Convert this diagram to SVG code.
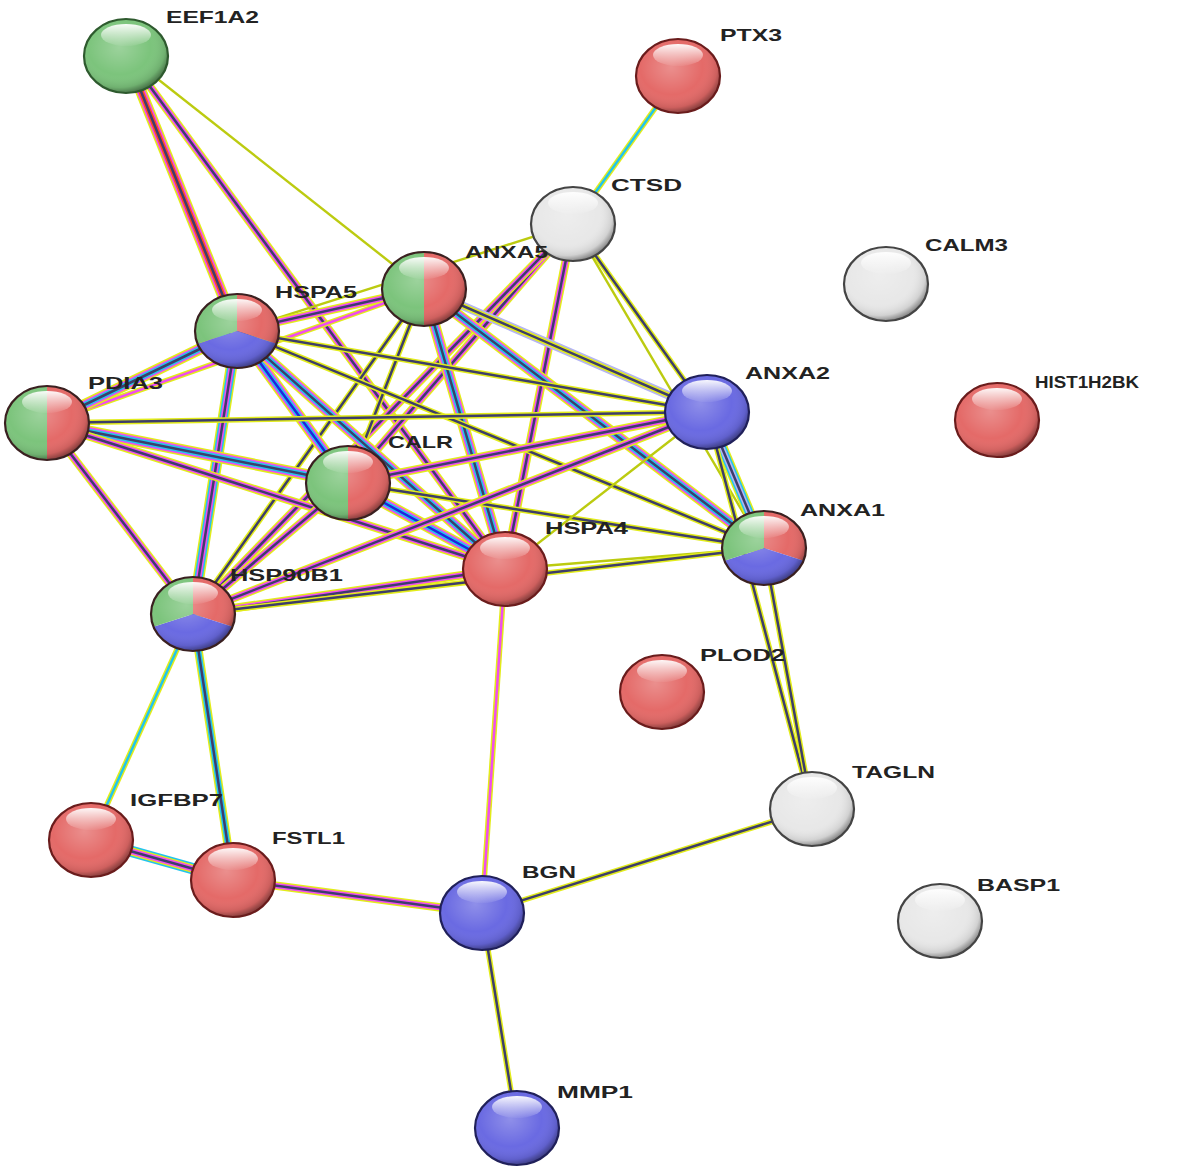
<svg xmlns="http://www.w3.org/2000/svg" xmlns:xlink="http://www.w3.org/1999/xlink" width="1181" height="1175" viewBox="0 0 1181 1175">
<style>
.e use{fill:none;stroke-linecap:butt}
.Y{stroke:#e2ec1a}.G{stroke:#bccb10}.C{stroke:#22c4ee}.M{stroke:#f04cf0}.D{stroke:#3d3d6b}.R{stroke:#ff4a22}.B{stroke:#2222dd}.P{stroke:#b4b4f4}
.w1{stroke-width:2.5}.w2{stroke-width:5.5}.w3{stroke-width:8.5}.w4{stroke-width:11.5}.w0{stroke-width:2.4}
.red{fill:#e46a68}.grn{fill:#7cc47c}.blu{fill:#6a6ae2}.wht{fill:#e8e8e8}
.lbl{font-family:"Liberation Sans",Arial,sans-serif;font-size:17px;font-weight:bold;fill:#222}
</style>
<defs>
<radialGradient id="sh" cx="0.42" cy="0.38" r="0.62">
<stop offset="0" stop-color="#fff" stop-opacity="0.25"/>
<stop offset="0.6" stop-color="#fff" stop-opacity="0"/>
<stop offset="0.88" stop-color="#000" stop-opacity="0.1"/>
<stop offset="1" stop-color="#000" stop-opacity="0.38"/>
</radialGradient>
<linearGradient id="gl" x1="0" y1="0" x2="0" y2="1">
<stop offset="0" stop-color="#fff" stop-opacity="0.95"/>
<stop offset="1" stop-color="#fff" stop-opacity="0.05"/>
</linearGradient>
<g id="ov">
<ellipse rx="42" ry="37" fill="url(#sh)"/>
<ellipse cy="-21" rx="25" ry="11" fill="url(#gl)"/>
<ellipse rx="42" ry="37" fill="none" stroke="currentColor" stroke-width="2.2"/>
</g>
<path id="hl" d="M0,-37 A42,37 0 0 0 0,37 Z"/>
<path id="hr" d="M0,-37 A42,37 0 0 1 0,37 Z"/>
<path id="s1" d="M0,0 L0,-37 A42,37 0 0 1 39.5,12.7 Z"/>
<path id="s2" d="M0,0 L39.5,12.7 A42,37 0 0 1 -39.5,12.7 Z"/>
<path id="s3" d="M0,0 L-39.5,12.7 A42,37 0 0 1 0,-37 Z"/>
<ellipse id="full" rx="42" ry="37"/>
<path id="l1" d="M126,54 L237,331"/>
<path id="l2" d="M126,54 L505,569"/>
<path id="l3" d="M126,54 L424,289"/>
<path id="l4" d="M678,76 L573,224"/>
<path id="l5" d="M573,224 L237,331"/>
<path id="l6" d="M573,224 L348,483"/>
<path id="l7" d="M573,224 L193,614"/>
<path id="l8" d="M573,224 L505,569"/>
<path id="l9" d="M573,224 L707,412"/>
<path id="l10" d="M573,224 L764,548"/>
<path id="l11" d="M424,289 L237,331"/>
<path id="l12" d="M424,289 L47,423"/>
<path id="l13" d="M424,289 L348,483"/>
<path id="l14" d="M424,289 L505,569"/>
<path id="l15" d="M424,289 L193,614"/>
<path id="l16" d="M424,289 L707,412"/>
<path id="l17" d="M424,289 L764,548"/>
<path id="l18" d="M237,331 L47,423"/>
<path id="l19" d="M237,331 L348,483"/>
<path id="l20" d="M237,331 L505,569"/>
<path id="l21" d="M237,331 L193,614"/>
<path id="l22" d="M237,331 L707,412"/>
<path id="l23" d="M237,331 L764,548"/>
<path id="l24" d="M47,423 L348,483"/>
<path id="l25" d="M47,423 L505,569"/>
<path id="l26" d="M47,423 L193,614"/>
<path id="l27" d="M47,423 L707,412"/>
<path id="l28" d="M348,483 L505,569"/>
<path id="l29" d="M348,483 L193,614"/>
<path id="l30" d="M348,483 L707,412"/>
<path id="l31" d="M348,483 L764,548"/>
<path id="l32" d="M505,569 L193,614"/>
<path id="l33" d="M505,569 L707,412"/>
<path id="l34" d="M505,569 L764,548"/>
<path id="l35" d="M505,569 L482,913"/>
<path id="l36" d="M193,614 L707,412"/>
<path id="l37" d="M193,614 L764,548"/>
<path id="l38" d="M193,614 L91,840"/>
<path id="l39" d="M193,614 L233,880"/>
<path id="l40" d="M707,412 L764,548"/>
<path id="l41" d="M707,412 L812,809"/>
<path id="l42" d="M764,548 L812,809"/>
<path id="l43" d="M91,840 L233,880"/>
<path id="l44" d="M233,880 L482,913"/>
<path id="l45" d="M482,913 L812,809"/>
<path id="l46" d="M482,913 L517,1128"/>
</defs>
<rect width="1181" height="1175" fill="#fff"/>
<g id="connectors" class="e">
<use href="#l1" class="Y w4"/><use href="#l1" class="M w3"/><use href="#l1" class="R w2"/><use href="#l1" class="D w1"/>
<use href="#l2" class="Y w3"/><use href="#l2" class="M w2"/><use href="#l2" class="D w1"/>
<use href="#l3" class="G w0"/>
<use href="#l4" class="Y w2"/><use href="#l4" class="C w1"/>
<use href="#l5" class="G w0"/>
<use href="#l6" class="Y w3"/><use href="#l6" class="M w2"/><use href="#l6" class="D w1"/>
<use href="#l7" class="Y w3"/><use href="#l7" class="M w2"/><use href="#l7" class="D w1"/>
<use href="#l8" class="Y w3"/><use href="#l8" class="M w2"/><use href="#l8" class="D w1"/>
<use href="#l9" class="Y w2"/><use href="#l9" class="D w1"/>
<use href="#l10" class="G w0"/>
<use href="#l11" class="Y w3"/><use href="#l11" class="M w2"/><use href="#l11" class="D w1"/>
<use href="#l12" class="Y w2"/><use href="#l12" class="M w1"/>
<use href="#l13" class="Y w2"/><use href="#l13" class="D w1"/>
<use href="#l14" class="Y w4"/><use href="#l14" class="M w3"/><use href="#l14" class="C w2"/><use href="#l14" class="D w1"/>
<use href="#l15" class="Y w2"/><use href="#l15" class="D w1"/>
<use href="#l16" class="P w3"/><use href="#l16" class="Y w2"/><use href="#l16" class="D w1"/>
<use href="#l17" class="Y w4"/><use href="#l17" class="M w3"/><use href="#l17" class="C w2"/><use href="#l17" class="D w1"/>
<use href="#l18" class="Y w4"/><use href="#l18" class="M w3"/><use href="#l18" class="C w2"/><use href="#l18" class="D w1"/>
<use href="#l19" class="Y w4"/><use href="#l19" class="M w3"/><use href="#l19" class="C w2"/><use href="#l19" class="B w1"/>
<use href="#l20" class="Y w4"/><use href="#l20" class="M w3"/><use href="#l20" class="C w2"/><use href="#l20" class="D w1"/>
<use href="#l21" class="Y w4"/><use href="#l21" class="C w3"/><use href="#l21" class="M w2"/><use href="#l21" class="D w1"/>
<use href="#l22" class="Y w2"/><use href="#l22" class="D w1"/>
<use href="#l23" class="Y w2"/><use href="#l23" class="D w1"/>
<use href="#l24" class="Y w4"/><use href="#l24" class="M w3"/><use href="#l24" class="C w2"/><use href="#l24" class="D w1"/>
<use href="#l25" class="Y w3"/><use href="#l25" class="M w2"/><use href="#l25" class="D w1"/>
<use href="#l26" class="Y w3"/><use href="#l26" class="M w2"/><use href="#l26" class="D w1"/>
<use href="#l27" class="Y w2"/><use href="#l27" class="D w1"/>
<use href="#l28" class="Y w4"/><use href="#l28" class="M w3"/><use href="#l28" class="C w2"/><use href="#l28" class="B w1"/>
<use href="#l29" class="Y w3"/><use href="#l29" class="M w2"/><use href="#l29" class="D w1"/>
<use href="#l30" class="Y w3"/><use href="#l30" class="M w2"/><use href="#l30" class="D w1"/>
<use href="#l31" class="Y w2"/><use href="#l31" class="D w1"/>
<use href="#l32" class="Y w3"/><use href="#l32" class="M w2"/><use href="#l32" class="D w1"/>
<use href="#l33" class="G w0"/>
<use href="#l34" class="G w0"/>
<use href="#l35" class="Y w2"/><use href="#l35" class="M w1"/>
<use href="#l36" class="Y w3"/><use href="#l36" class="M w2"/><use href="#l36" class="D w1"/>
<use href="#l37" class="Y w2"/><use href="#l37" class="D w1"/>
<use href="#l38" class="Y w2"/><use href="#l38" class="C w1"/>
<use href="#l39" class="Y w3"/><use href="#l39" class="C w2"/><use href="#l39" class="D w1"/>
<use href="#l40" class="Y w4"/><use href="#l40" class="C w3"/><use href="#l40" class="P w2"/><use href="#l40" class="D w1"/>
<use href="#l41" class="Y w2"/><use href="#l41" class="D w1"/>
<use href="#l42" class="Y w2"/><use href="#l42" class="D w1"/>
<use href="#l43" class="C w4"/><use href="#l43" class="Y w3"/><use href="#l43" class="M w2"/><use href="#l43" class="D w1"/>
<use href="#l44" class="Y w3"/><use href="#l44" class="M w2"/><use href="#l44" class="D w1"/>
<use href="#l45" class="Y w2"/><use href="#l45" class="D w1"/>
<use href="#l46" class="Y w2"/><use href="#l46" class="D w1"/>
</g>
<g id="nodes">
<g id="EEF1A2" transform="translate(126,56)" style="color:#2e5a2e"><use href="#full" class="grn"/><use href="#ov"/><text class="lbl" x="40" y="-33" textLength="93" lengthAdjust="spacingAndGlyphs">EEF1A2</text></g>
<g id="PTX3" transform="translate(678,76)" style="color:#6a1c1c"><use href="#full" class="red"/><use href="#ov"/><text class="lbl" x="42" y="-35" textLength="62" lengthAdjust="spacingAndGlyphs">PTX3</text></g>
<g id="CTSD" transform="translate(573,224)" style="color:#444"><use href="#full" class="wht"/><use href="#ov"/><text class="lbl" x="38" y="-33" textLength="71" lengthAdjust="spacingAndGlyphs">CTSD</text></g>
<g id="CALM3" transform="translate(886,284)" style="color:#444"><use href="#full" class="wht"/><use href="#ov"/><text class="lbl" x="39" y="-33" textLength="83" lengthAdjust="spacingAndGlyphs">CALM3</text></g>
<g id="ANXA5" transform="translate(424,289)" style="color:#3a2020"><use href="#hl" class="grn"/><use href="#hr" class="red"/><use href="#ov"/><text class="lbl" x="41" y="-31" textLength="83" lengthAdjust="spacingAndGlyphs">ANXA5</text></g>
<g id="HSPA5" transform="translate(237,331)" style="color:#3a2020"><use href="#s1" class="red"/><use href="#s2" class="blu"/><use href="#s3" class="grn"/><use href="#ov"/><text class="lbl" x="38" y="-33" textLength="82" lengthAdjust="spacingAndGlyphs">HSPA5</text></g>
<g id="PDIA3" transform="translate(47,423)" style="color:#3a2020"><use href="#hl" class="grn"/><use href="#hr" class="red"/><use href="#ov"/><text class="lbl" x="41" y="-34" textLength="75" lengthAdjust="spacingAndGlyphs">PDIA3</text></g>
<g id="ANXA2" transform="translate(707,412)" style="color:#20205a"><use href="#full" class="blu"/><use href="#ov"/><text class="lbl" x="38" y="-33" textLength="85" lengthAdjust="spacingAndGlyphs">ANXA2</text></g>
<g id="HIST1H2BK" transform="translate(997,420)" style="color:#6a1c1c"><use href="#full" class="red"/><use href="#ov"/><text class="lbl" x="38" y="-32" textLength="104" lengthAdjust="spacingAndGlyphs">HIST1H2BK</text></g>
<g id="CALR" transform="translate(348,483)" style="color:#3a2020"><use href="#hl" class="grn"/><use href="#hr" class="red"/><use href="#ov"/><text class="lbl" x="40" y="-35" textLength="65" lengthAdjust="spacingAndGlyphs">CALR</text></g>
<g id="ANXA1" transform="translate(764,548)" style="color:#3a2020"><use href="#s1" class="red"/><use href="#s2" class="blu"/><use href="#s3" class="grn"/><use href="#ov"/><text class="lbl" x="36" y="-32" textLength="85" lengthAdjust="spacingAndGlyphs">ANXA1</text></g>
<g id="HSPA4" transform="translate(505,569)" style="color:#6a1c1c"><use href="#full" class="red"/><use href="#ov"/><text class="lbl" x="40" y="-35" textLength="83" lengthAdjust="spacingAndGlyphs">HSPA4</text></g>
<g id="HSP90B1" transform="translate(193,614)" style="color:#3a2020"><use href="#s1" class="red"/><use href="#s2" class="blu"/><use href="#s3" class="grn"/><use href="#ov"/><text class="lbl" x="37" y="-33" textLength="113" lengthAdjust="spacingAndGlyphs">HSP90B1</text></g>
<g id="PLOD2" transform="translate(662,692)" style="color:#6a1c1c"><use href="#full" class="red"/><use href="#ov"/><text class="lbl" x="38" y="-31" textLength="85" lengthAdjust="spacingAndGlyphs">PLOD2</text></g>
<g id="TAGLN" transform="translate(812,809)" style="color:#444"><use href="#full" class="wht"/><use href="#ov"/><text class="lbl" x="40" y="-31" textLength="83" lengthAdjust="spacingAndGlyphs">TAGLN</text></g>
<g id="IGFBP7" transform="translate(91,840)" style="color:#6a1c1c"><use href="#full" class="red"/><use href="#ov"/><text class="lbl" x="39" y="-34" textLength="93" lengthAdjust="spacingAndGlyphs">IGFBP7</text></g>
<g id="FSTL1" transform="translate(233,880)" style="color:#6a1c1c"><use href="#full" class="red"/><use href="#ov"/><text class="lbl" x="39" y="-36" textLength="73" lengthAdjust="spacingAndGlyphs">FSTL1</text></g>
<g id="BGN" transform="translate(482,913)" style="color:#20205a"><use href="#full" class="blu"/><use href="#ov"/><text class="lbl" x="40" y="-35" textLength="54" lengthAdjust="spacingAndGlyphs">BGN</text></g>
<g id="BASP1" transform="translate(940,921)" style="color:#444"><use href="#full" class="wht"/><use href="#ov"/><text class="lbl" x="37" y="-30" textLength="83" lengthAdjust="spacingAndGlyphs">BASP1</text></g>
<g id="MMP1" transform="translate(517,1128)" style="color:#20205a"><use href="#full" class="blu"/><use href="#ov"/><text class="lbl" x="40" y="-30" textLength="76" lengthAdjust="spacingAndGlyphs">MMP1</text></g>
</g>
</svg>
